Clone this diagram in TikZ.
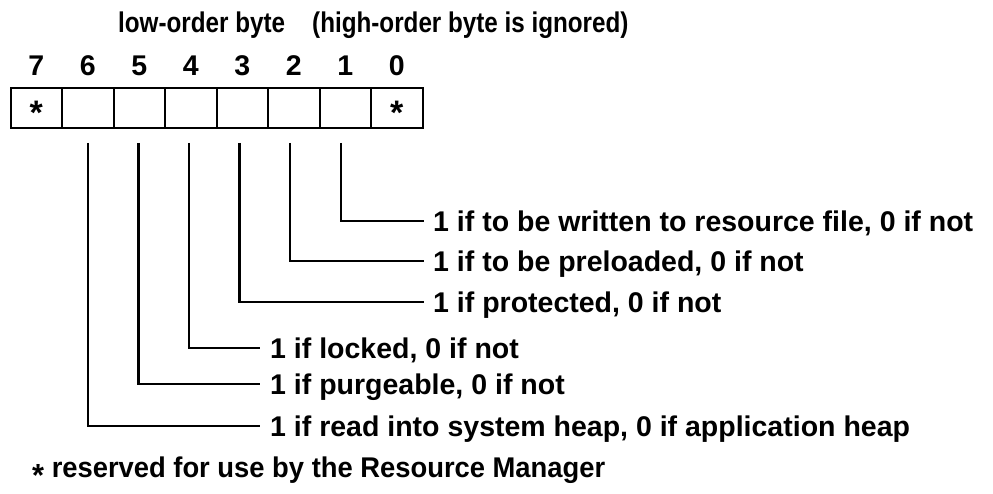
\documentclass[tikz,border=0pt]{standalone}
\usepackage{fontspec}
\setmainfont{Liberation Sans}
\newfontfamily\hdrfont{Liberation Sans}[FakeStretch=0.85]
\newfontfamily\footfont{Liberation Sans}[FakeStretch=0.96]
\begin{document}
\begin{tikzpicture}[x=1pt,y=-1pt,
  every node/.style={font=\fontsize{28.5}{30}\selectfont\bfseries},
  cell/.style={draw,line width=2.2pt,minimum width=51.5pt,minimum height=40.6pt,inner sep=0pt,anchor=north west},
  bitnum/.style={anchor=base,inner sep=0pt},
  star/.style={anchor=center,inner sep=0pt,font=\fontsize{34}{34}\selectfont\bfseries},
  lbl/.style={anchor=west,inner xsep=9pt,inner ysep=0pt,text height=21pt,text depth=0pt},
  lblb/.style={lbl,inner xsep=10.5pt},
  conn/.style={line width=2.2pt}]
\useasboundingbox (0,0) rectangle (993,494);
% header
\node[anchor=base west,inner sep=0pt,font=\fontsize{28.5}{30}\hdrfont\bfseries] (low) at (118,33) {low-order byte};
\node[anchor=base west,inner sep=0pt,font=\fontsize{28.5}{30}\hdrfont\bfseries] (high) at (312,33) {(high-order byte is ignored)};
% cells
\foreach \b [count=\i from 0] in {7,6,5,4,3,2,1,0}{
  \node[cell] (c\b) at (9.5+51.5*\i,86.7) {};
  \node[bitnum] (n\b) at (c\b.north |- 0,75.5) {\b};
}
\node[star] (s7) at ([yshift=-5pt]c7.center) {*};
\node[star] (s0) at ([yshift=-5pt]c0.center) {*};
% line starts
\coordinate (b1) at (341,143);
\coordinate (b2) at (290,143);
\coordinate (b3) at (239.5,143);
\coordinate (b4) at (189,143);
\coordinate (b5) at (138.5,143);
\coordinate (b6) at (88,143);
% labels
\node[lbl] (t1) at (424,220.7) {1 if to be written to resource file, 0 if not};
\node[lbl] (t2) at (424,261) {1 if to be preloaded, 0 if not};
\node[lbl] (t3) at (424,302) {1 if protected, 0 if not};
\node[lblb] (t4) at (259.5,347.7) {1 if locked, 0 if not};
\node[lblb] (t5) at (259.5,384) {1 if purgeable, 0 if not};
\node[lblb] (t6) at (259.5,425.7) {1 if read into system heap, 0 if application heap};
\foreach \k in {1,...,6}{
  \draw[conn] (b\k) |- (t\k.west);
}
% footnote
\node[anchor=base west,inner sep=0pt,font=\fontsize{28.5}{30}\footfont\bfseries] (foot) at (32,477) {\raisebox{-9pt}{\fontsize{32}{32}\selectfont *} reserved for use by the Resource Manager};
\end{tikzpicture}
\end{document}
